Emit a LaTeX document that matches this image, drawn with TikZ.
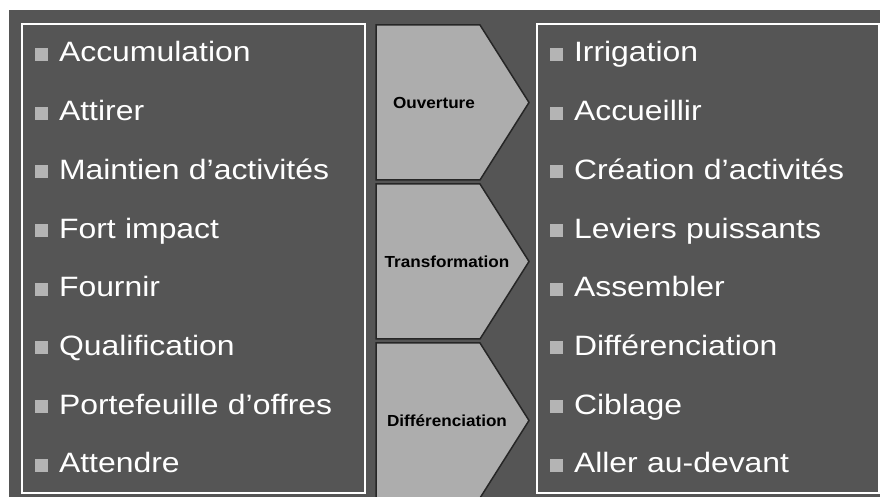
\documentclass[tikz,border=0pt]{standalone}
\usepackage{fontspec}
\usepackage{tikz}
\usetikzlibrary{positioning}
\newfontfamily\itemfont[FakeStretch=1.14]{Liberation Sans}
\newfontfamily\stagefont[FakeStretch=1.07]{Liberation Sans}
\definecolor{bggray}{HTML}{555555}
\definecolor{chevgray}{HTML}{ADADAD}
\definecolor{bulletgray}{HTML}{B4B4B4}
\newcommand{\sqbullet}{{\color{bulletgray}\raisebox{1pt}{\rule{13pt}{13pt}}}\hspace{11pt}}
\tikzstyle{item} = [text=white, font=\itemfont\fontsize{28}{32}\selectfont,
    text width=320pt, align=left, text height=20pt, text depth=6pt, inner sep=0pt]
\tikzstyle{frame} = [draw=white, line width=1.5pt]
\tikzstyle{chevron} = [draw=black!85, fill=chevgray, line width=1.5pt, line join=miter]
\tikzstyle{stage} = [font=\stagefont\bfseries\fontsize{16}{18}\selectfont, text=black, inner sep=0pt]

\begin{document}
\begin{tikzpicture}[x=1pt, y=1pt, node distance=58.7pt]
        \useasboundingbox (0,0) rectangle (880,497);
        % Background and frames
        \fill [bggray] (9,0) rectangle (880,487);
        \draw [frame] (22,4) rectangle (365,473);
        \draw [frame] (537,4) rectangle (879,473);
        % Chevrons
        \draw [chevron] (376,472) -- (480,472) -- (529,394.5) -- (480,317) -- (376,317) -- cycle;
        \draw [chevron] (376,313) -- (480,313) -- (529,235.5) -- (480,158) -- (376,158) -- cycle;
        \draw [chevron] (376,154) -- (480,154) -- (529,76.5) -- (480,-1) -- (376,-1) -- cycle;
        \node [stage] (ouverture) at (434,394) {Ouverture};
        \node [stage] (transformation) at (447,235) {Transformation};
        \node [stage] (differenciation) at (447,76) {Différenciation};
        % Left list
        \node [item] (accumulation) at (195,442) {\sqbullet Accumulation};
        \node [item, below of=accumulation] (attirer) {\sqbullet Attirer};
        \node [item, below of=attirer] (maintien) {\sqbullet Maintien d’activités};
        \node [item, below of=maintien] (fortimpact) {\sqbullet Fort impact};
        \node [item, below of=fortimpact] (fournir) {\sqbullet Fournir};
        \node [item, below of=fournir] (qualification) {\sqbullet Qualification};
        \node [item, below of=qualification] (portefeuille) {\sqbullet Portefeuille d’offres};
        \node [item, below of=portefeuille] (attendre) {\sqbullet Attendre};
        % Right list
        \node [item] (irrigation) at (710,442) {\sqbullet Irrigation};
        \node [item, below of=irrigation] (accueillir) {\sqbullet Accueillir};
        \node [item, below of=accueillir] (creation) {\sqbullet Création d’activités};
        \node [item, below of=creation] (leviers) {\sqbullet Leviers puissants};
        \node [item, below of=leviers] (assembler) {\sqbullet Assembler};
        \node [item, below of=assembler] (diffright) {\sqbullet Différenciation};
        \node [item, below of=diffright] (ciblage) {\sqbullet Ciblage};
        \node [item, below of=ciblage] (allerdevant) {\sqbullet Aller au-devant};
\end{tikzpicture}
\end{document}
